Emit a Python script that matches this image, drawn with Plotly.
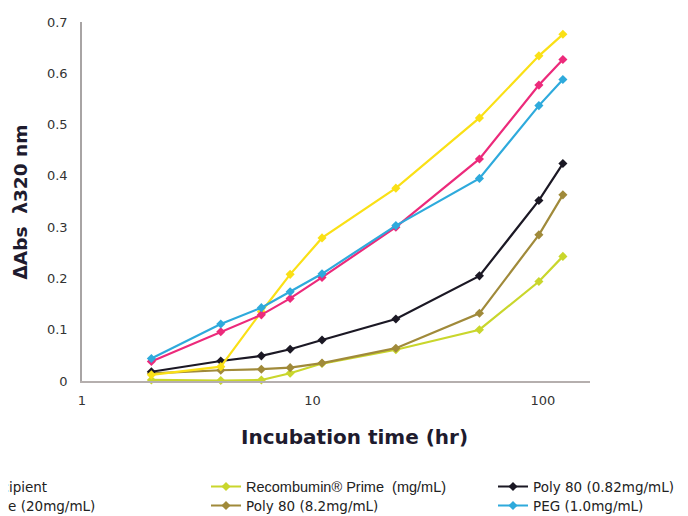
import plotly.graph_objects as go

# Incubation time (hr)
times = [2, 4, 6, 8, 11, 23, 53, 96, 122]

no_excipient = [0.038, 0.096, 0.129, 0.161, 0.202, 0.300, 0.433, 0.577, 0.627]
sucrose = [0.012, 0.028, 0.135, 0.208, 0.279, 0.376, 0.513, 0.634, 0.676]
recombumin = [0.002, 0.001, 0.002, 0.015, 0.034, 0.061, 0.100, 0.194, 0.243]
poly80_high = [0.015, 0.021, 0.023, 0.026, 0.035, 0.064, 0.132, 0.285, 0.363]
poly80_low = [0.018, 0.039, 0.049, 0.062, 0.080, 0.121, 0.205, 0.352, 0.424]
peg = [0.044, 0.111, 0.143, 0.174, 0.209, 0.303, 0.395, 0.537, 0.588]

x_ticks = [1, 10, 100]
x_tick_text = ["1", "10", "100"]
y_ticks = [0, 0.1, 0.2, 0.3, 0.4, 0.5, 0.6, 0.7]
y_tick_text = ["0", "0.1", "0.2", "0.3", "0.4", "0.5", "0.6", "0.7"]

series = [
    # name, values, colour, legend id
    ('<span style="font-family:Liberation Sans;font-size:14.5px">Recombumin® Prime\u00a0\u00a0(mg/mL)</span>',
     recombumin, "#C9D62C", "legend3"),
    ("Poly 80 (8.2mg/mL)", poly80_high, "#A08A3A", "legend4"),
    ("Poly 80 (0.82mg/mL)", poly80_low, "#1B1824", "legend5"),
    ("Sucrose (20mg/mL)", sucrose, "#FAE016", "legend2"),
    ("No excipient", no_excipient, "#EC2A7B", "legend"),
    ("PEG (1.0mg/mL)", peg, "#2EAADC", "legend6"),
]

fig = go.Figure()
for name, vals, col, lg in series:
    fig.add_trace(go.Scatter(
        x=times, y=vals, name=name, mode="lines+markers",
        line=dict(color=col, width=2.2),
        marker=dict(symbol="diamond", size=7, color=col),
        cliponaxis=False, legend=lg,
    ))

# the page body adds an 8px offset; work in figure coordinates = screen - 8
OFF = 8
W, H = 680, 508
L, T = 82 - OFF, 22 - OFF
plot_right, plot_bottom = 590 - OFF, 381 - OFF
R, B = W - plot_right, H - plot_bottom
pw = W - L - R
ph = H - T - B


def px_x(x):
    return (x - OFF - L) / pw


def px_y(y):
    return (plot_bottom - (y - OFF)) / ph


legend_font = dict(family="DejaVu Sans", size=13.5, color="#222222")
legend_pos = {
    "legend": (-37, 486.7),
    "legend2": (-37, 505.7),
    "legend3": (246, 486.7),
    "legend4": (246, 505.7),
    "legend5": (533, 486.7),
    "legend6": (533, 505.7),
}

layout = dict(
    width=W, height=H,
    margin=dict(l=L, r=R, t=T, b=B, autoexpand=False),
    paper_bgcolor="white", plot_bgcolor="white",
    showlegend=True,
    xaxis=dict(
        type="log", range=[0, 2.204],
        tickvals=x_ticks, ticktext=x_tick_text,
        showgrid=False, zeroline=False,
        showline=True, linecolor="#B5AFAE", linewidth=2,
        ticks="", ticklabelstandoff=6,
        tickfont=dict(family="DejaVu Sans", size=13, color="#333333"),
    ),
    yaxis=dict(
        range=[0, 0.7], tickvals=y_ticks, ticktext=y_tick_text,
        showgrid=False, zeroline=False,
        showline=True, linecolor="#A8A4A4", linewidth=1.5,
        ticks="", ticklabelstandoff=10,
        tickfont=dict(family="DejaVu Sans", size=13, color="#333333"),
    ),
    annotations=[
        dict(text="Incubation time (hr)", xref="paper", yref="paper",
             x=px_x(354), y=px_y(437), xanchor="center", yanchor="middle",
             showarrow=False,
             font=dict(family="DejaVu Sans", size=20, color="#1E1B2E", weight="bold")),
        dict(text="ΔAbs\u00a0\u00a0λ320 nm", xref="paper", yref="paper",
             x=px_x(20), y=px_y(202.5), xanchor="center", yanchor="middle",
             textangle=-90, showarrow=False,
             font=dict(family="DejaVu Sans", size=18.5, color="#1E1B2E", weight="bold")),
    ],
)

for lg, (tx, ty) in legend_pos.items():
    layout[lg] = dict(
        x=px_x(tx - 40), y=px_y(ty), xanchor="left", yanchor="middle",
        orientation="v", bgcolor="rgba(0,0,0,0)", borderwidth=0,
        font=legend_font,
    )

fig.update_layout(layout)
fig.write_html("out.html")
